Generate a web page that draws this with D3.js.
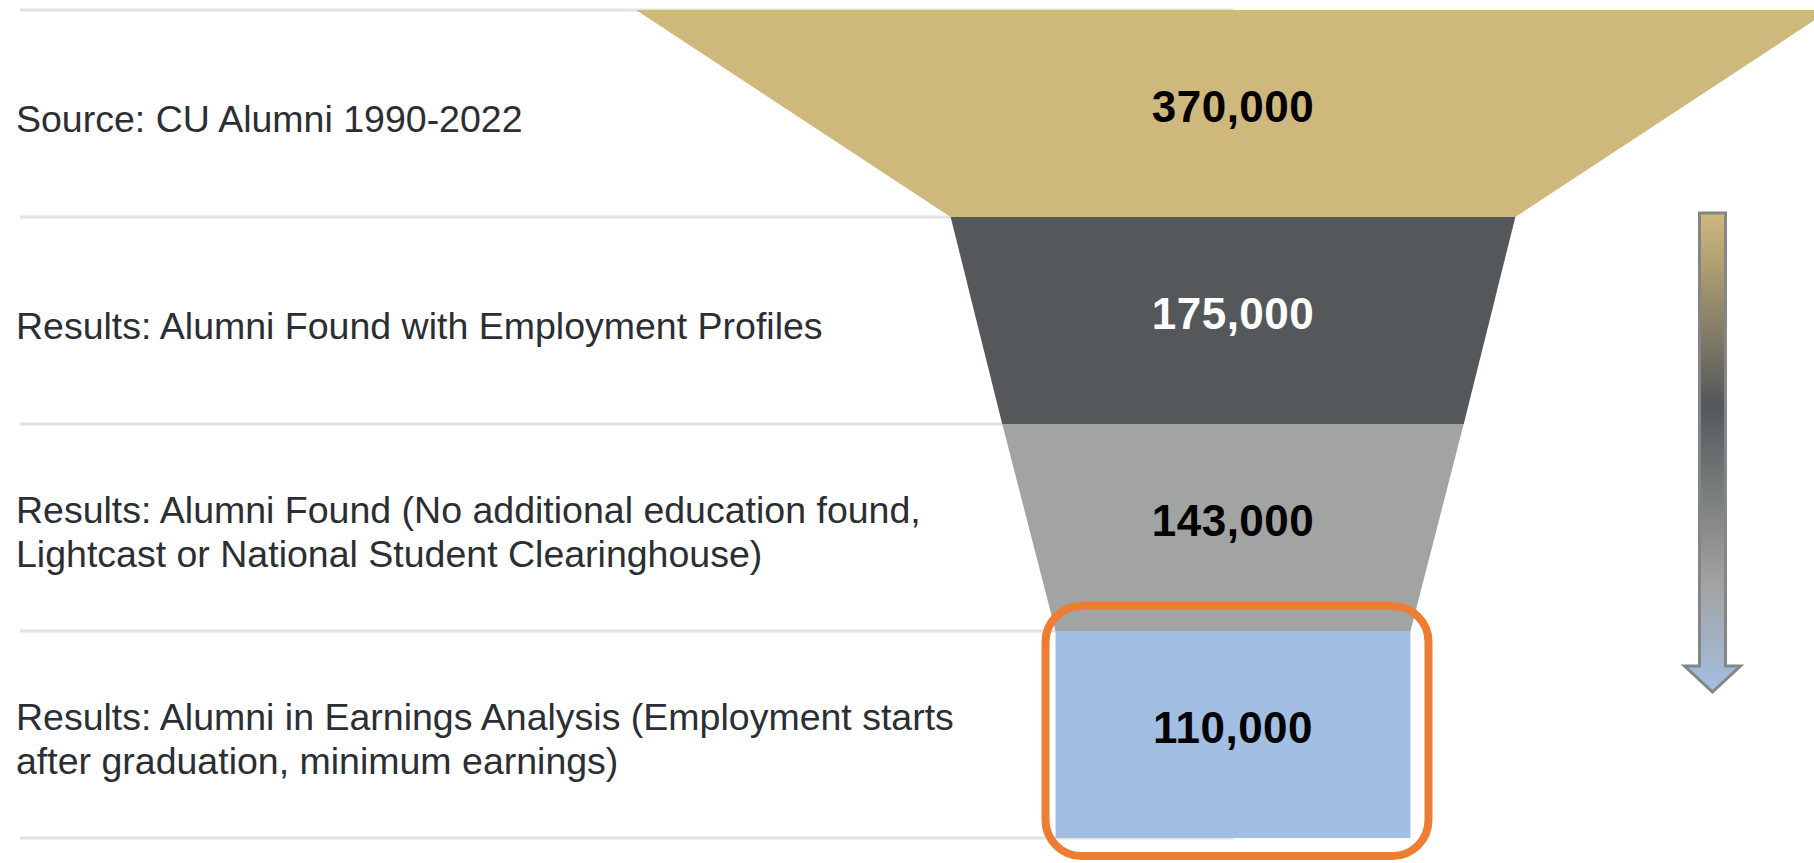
<!DOCTYPE html>
<html>
<head>
<meta charset="utf-8">
<script src="https://cdn.jsdelivr.net/npm/d3@7"></script>
<style>
  body { margin: 0; background: #fff; }
  text { font-family: "Liberation Sans", Arial, sans-serif; }
</style>
</head>
<body>
<div class="canvas"></div>
<script>
// data
const stageLabels = [
  ["Source: CU Alumni 1990-2022"],
  ["Results: Alumni Found with Employment Profiles"],
  ["Results: Alumni Found (No additional education found,", "Lightcast or National Student Clearinghouse)"],
  ["Results: Alumni in Earnings Analysis (Employment starts", "after graduation, minimum earnings)"]
];
const stageValues = [370000, 175000, 143000, 110000];
const stageColors = ["#cfb87c", "#54585a", "#a2a4a3", "#a2bee2"];
const valueColors = ["#000", "#fff", "#000", "#000"];

// sizes
const w = 1814;
const h = 863;
const centerX = 1233;
const rowsTop = 10;
const rowsBottom = 838;

const svg = d3.select(".canvas").append("svg").attr("width", w).attr("height", h);

// scales: rows by band, funnel width by value
const y = d3.scaleBand().domain(d3.range(stageValues.length)).range([rowsTop, rowsBottom]).padding(0);
const widthScale = d3.scaleLinear().domain([0, d3.max(stageValues)]).range([0, 1194]);
const fmt = d3.format(",");

// row separator lines (drawn first so the funnel sits on top)
const lineYs = y.domain().map((d) => y(d)).concat([rowsBottom]);
svg
  .selectAll("line.sep")
  .data(lineYs)
  .enter()
  .append("line")
  .attr("class", "sep")
  .attr("x1", 20)
  .attr("x2", centerX)
  .attr("y1", (d) => d)
  .attr("y2", (d) => d)
  .attr("stroke", "#e2e2e2")
  .attr("stroke-width", 3);

// funnel segments: top edge = own value, bottom edge = next value (last one is a box)
const segPath = (d, i) => {
  const wt = widthScale(d) / 2;
  const wb = widthScale(i < stageValues.length - 1 ? stageValues[i + 1] : d) / 2;
  const y0 = y(i);
  const y1 = y(i) + y.bandwidth();
  return `M${centerX - wt},${y0}L${centerX + wt},${y0}L${centerX + wb},${y1}L${centerX - wb},${y1}Z`;
};
svg
  .selectAll("path.seg")
  .data(stageValues)
  .enter()
  .append("path")
  .attr("class", "seg")
  .attr("d", segPath)
  .attr("fill", (d, i) => stageColors[i]);

// value labels
svg
  .selectAll("text.val")
  .data(stageValues)
  .enter()
  .append("text")
  .attr("class", "val")
  .attr("x", centerX)
  .attr("y", (d, i) => y(i) + y.bandwidth() / 2 + 8)
  .attr("text-anchor", "middle")
  .attr("font-size", 44)
  .attr("font-weight", "bold")
  .attr("letter-spacing", 0.5)
  .attr("fill", (d, i) => valueColors[i])
  .text((d) => fmt(d));

// stage labels on the left
const lab = svg
  .selectAll("text.lab")
  .data(stageLabels)
  .enter()
  .append("text")
  .attr("class", "lab")
  .attr("font-size", 37.5)
  .attr("fill", "#2b2e33");
lab
  .selectAll("tspan")
  .data((d, i) => d.map((t, j) => ({ t, j, n: d.length, i })))
  .enter()
  .append("tspan")
  .attr("x", 16)
  .attr("y", (d) => {
    const mid = y(d.i) + y.bandwidth() / 2;
    return d.n === 1 ? mid + 18 : mid - 5 + d.j * 44;
  })
  .text((d) => d.t);

// orange highlight round the last stage
const last = stageValues.length - 1;
const boxW = widthScale(stageValues[last]);
svg
  .append("rect")
  .attr("x", centerX - boxW / 2 - 10)
  .attr("y", y(last) - 25)
  .attr("width", boxW + 28)
  .attr("height", y.bandwidth() + 43)
  .attr("rx", 36)
  .attr("fill", "none")
  .attr("stroke", "#ed7d31")
  .attr("stroke-width", 8);

// gradient arrow on the right
const defs = svg.append("defs");
const grad = defs
  .append("linearGradient")
  .attr("id", "arrowGrad")
  .attr("x1", 0)
  .attr("y1", 0)
  .attr("x2", 0)
  .attr("y2", 1);
[[0, stageColors[0]], [0.4, stageColors[1]], [0.78, stageColors[2]], [1, stageColors[3]]].forEach(([o, c]) => {
  grad.append("stop").attr("offset", o).attr("stop-color", c);
});

const ax = 1712.5;
const aTop = 213;
const aHead = 666;
const aTip = 692;
const shaft = 13;
const head = 28;
svg
  .append("path")
  .attr(
    "d",
    `M${ax - shaft},${aTop}L${ax + shaft},${aTop}L${ax + shaft},${aHead}L${ax + head},${aHead}L${ax},${aTip}L${ax - head},${aHead}L${ax - shaft},${aHead}Z`
  )
  .attr("fill", "url(#arrowGrad)")
  .attr("stroke", "#858585")
  .attr("stroke-width", 3)
  .attr("stroke-linejoin", "miter");
</script>
</body>
</html>
